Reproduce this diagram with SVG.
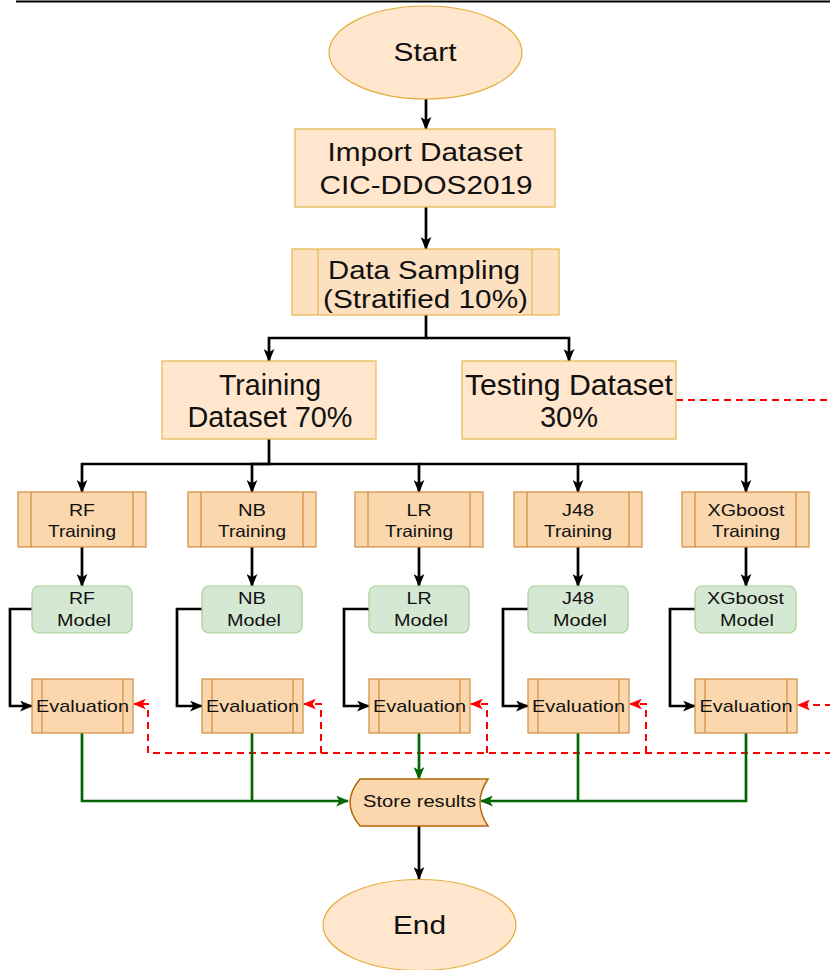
<svg xmlns="http://www.w3.org/2000/svg" width="830" height="970" viewBox="0 0 830 970">
<style>
text{font-family:"Liberation Sans",Arial,sans-serif;fill:#111;text-anchor:middle}
.big{font-size:25px}
.huge{font-size:29px}
.sm{font-size:16.5px}
.ev{font-size:17px}
.term{fill:#ffe6cc;stroke:#e3ac3a;stroke-width:1.2}
.proc{fill:#ffe6cc;stroke:#e6b64a;stroke-width:1.2}
.samp{fill:#fde0c0;stroke:#e6b64a;stroke-width:1.2}
.sub{fill:#fad7ac;stroke:#d08c3c;stroke-width:1.2}
.model{fill:#d5e8d4;stroke:#a6d08f;stroke-width:1.2}
.blk{fill:none;stroke:#000;stroke-width:2.7}
.grn{fill:none;stroke:#006600;stroke-width:2.7}
.red{fill:none;stroke:#ff0000;stroke-width:2;stroke-dasharray:7 5}
</style>
<defs>
<marker id="ab" viewBox="0 0 12 10" refX="11" refY="5" markerWidth="13" markerHeight="11" markerUnits="userSpaceOnUse" orient="auto"><path d="M0,0 L12,5 L0,10 L3,5 z" fill="#000"/></marker>
<marker id="ag" viewBox="0 0 12 10" refX="11" refY="5" markerWidth="13" markerHeight="11" markerUnits="userSpaceOnUse" orient="auto"><path d="M0,0 L12,5 L0,10 L3,5 z" fill="#006600"/></marker>
<marker id="ar" viewBox="0 0 12 10" refX="11" refY="5" markerWidth="13" markerHeight="11" markerUnits="userSpaceOnUse" orient="auto"><path d="M0,0 L12,5 L0,10 L3,5 z" fill="#ff0000"/></marker>
</defs>

<line x1="16" y1="1.5" x2="830" y2="1.5" stroke="#000" stroke-width="2"/>

<g id="connectors">
<path class="blk" d="M426,99 V129" marker-end="url(#ab)"/>
<path class="blk" d="M426,207 V249" marker-end="url(#ab)"/>
<path class="blk" d="M426,315 V338 H269 V361" marker-end="url(#ab)"/>
<path class="blk" d="M426,338 H569 V361" marker-end="url(#ab)"/>
<path class="blk" d="M269,439 V464 H82 V492" marker-end="url(#ab)"/>
<path class="blk" d="M269,464 H252 V492" marker-end="url(#ab)"/>
<path class="blk" d="M269,464 H419 V492" marker-end="url(#ab)"/>
<path class="blk" d="M419,464 H578 V492" marker-end="url(#ab)"/>
<path class="blk" d="M578,464 H746 V492" marker-end="url(#ab)"/>
<path class="blk" d="M82,547 V586" marker-end="url(#ab)"/>
<path class="blk" d="M252,547 V586" marker-end="url(#ab)"/>
<path class="blk" d="M419,547 V586" marker-end="url(#ab)"/>
<path class="blk" d="M578,547 V586" marker-end="url(#ab)"/>
<path class="blk" d="M746,547 V586" marker-end="url(#ab)"/>
<path class="blk" d="M32,609 H10 V706 H32" marker-end="url(#ab)"/>
<path class="blk" d="M202,609 H177 V706 H202" marker-end="url(#ab)"/>
<path class="blk" d="M369,609 H344 V706 H369" marker-end="url(#ab)"/>
<path class="blk" d="M528,609 H503 V706 H528" marker-end="url(#ab)"/>
<path class="blk" d="M695,609 H670 V706 H695" marker-end="url(#ab)"/>
<path class="red" d="M676,400 H832"/>
<path class="red" d="M832,753 H148"/>
<path class="red" d="M148,753 V704 H134" marker-end="url(#ar)"/>
<path class="red" d="M321,753 V704 H304" marker-end="url(#ar)"/>
<path class="red" d="M487,753 V704 H471" marker-end="url(#ar)"/>
<path class="red" d="M646,753 V704 H630" marker-end="url(#ar)"/>
<path class="red" d="M832,705 H798" marker-end="url(#ar)"/>
<path class="grn" d="M82,733 V801 H348" marker-end="url(#ag)"/>
<path class="grn" d="M252,733 V801"/>
<path class="grn" d="M419,733 V779" marker-end="url(#ag)"/>
<path class="grn" d="M746,733 V801 H481" marker-end="url(#ag)"/>
<path class="grn" d="M578,733 V801"/>
<path class="blk" d="M419,826 V879" marker-end="url(#ab)"/>
</g>

<g id="start">
<ellipse class="term" cx="425.5" cy="52.5" rx="96.5" ry="46.5"/>
<text class="big" x="425" y="61" textLength="63" lengthAdjust="spacingAndGlyphs">Start</text>
</g>
<g id="import">
<rect class="proc" x="295" y="129" width="260" height="78"/>
<text class="big" x="425" y="161" textLength="195" lengthAdjust="spacingAndGlyphs">Import Dataset</text>
<text class="big" x="426" y="194" textLength="213" lengthAdjust="spacingAndGlyphs">CIC-DDOS2019</text>
</g>
<g id="sampling">
<rect class="samp" x="292" y="249" width="267" height="66"/>
<line class="samp" x1="318" y1="249" x2="318" y2="315"/>
<line class="samp" x1="532" y1="249" x2="532" y2="315"/>
<text class="big" x="424" y="279" textLength="192" lengthAdjust="spacingAndGlyphs">Data Sampling</text>
<text class="big" x="425.5" y="308" textLength="205" lengthAdjust="spacingAndGlyphs">(Stratified 10%)</text>
</g>
<g id="training-dataset">
<rect class="proc" x="162" y="361" width="214" height="78"/>
<text class="huge" x="270" y="395" textLength="102" lengthAdjust="spacingAndGlyphs">Training</text>
<text class="huge" x="270" y="427" textLength="165" lengthAdjust="spacingAndGlyphs">Dataset 70%</text>
</g>
<g id="testing-dataset">
<rect class="proc" x="462" y="361" width="214" height="78"/>
<text class="huge" x="569" y="395" textLength="208" lengthAdjust="spacingAndGlyphs">Testing Dataset</text>
<text class="huge" x="569" y="427" textLength="58" lengthAdjust="spacingAndGlyphs">30%</text>
</g>

<g id="rf-training">
<rect class="sub" x="18" y="492" width="128" height="55"/>
<line class="sub" x1="31" y1="492" x2="31" y2="547"/><line class="sub" x1="133" y1="492" x2="133" y2="547"/>
<text class="sm" x="82" y="516" textLength="26" lengthAdjust="spacingAndGlyphs">RF</text>
<text class="sm" x="82" y="537" textLength="68" lengthAdjust="spacingAndGlyphs">Training</text>
</g>
<g id="nb-training">
<rect class="sub" x="188" y="492" width="128" height="55"/>
<line class="sub" x1="201" y1="492" x2="201" y2="547"/><line class="sub" x1="303" y1="492" x2="303" y2="547"/>
<text class="sm" x="252" y="516" textLength="28" lengthAdjust="spacingAndGlyphs">NB</text>
<text class="sm" x="252" y="537" textLength="68" lengthAdjust="spacingAndGlyphs">Training</text>
</g>
<g id="lr-training">
<rect class="sub" x="355" y="492" width="128" height="55"/>
<line class="sub" x1="368" y1="492" x2="368" y2="547"/><line class="sub" x1="470" y1="492" x2="470" y2="547"/>
<text class="sm" x="419" y="516" textLength="25" lengthAdjust="spacingAndGlyphs">LR</text>
<text class="sm" x="419" y="537" textLength="68" lengthAdjust="spacingAndGlyphs">Training</text>
</g>
<g id="j48-training">
<rect class="sub" x="514" y="492" width="128" height="55"/>
<line class="sub" x1="527" y1="492" x2="527" y2="547"/><line class="sub" x1="629" y1="492" x2="629" y2="547"/>
<text class="sm" x="578" y="516" textLength="32" lengthAdjust="spacingAndGlyphs">J48</text>
<text class="sm" x="578" y="537" textLength="68" lengthAdjust="spacingAndGlyphs">Training</text>
</g>
<g id="xgboost-training">
<rect class="sub" x="682" y="492" width="127" height="55"/>
<line class="sub" x1="695" y1="492" x2="695" y2="547"/><line class="sub" x1="796" y1="492" x2="796" y2="547"/>
<text class="sm" x="746" y="516" textLength="77" lengthAdjust="spacingAndGlyphs">XGboost</text>
<text class="sm" x="746" y="537" textLength="68" lengthAdjust="spacingAndGlyphs">Training</text>
</g>

<g id="rf-model">
<rect class="model" x="32" y="586" width="100" height="47" rx="7"/>
<text class="sm" x="82" y="604" textLength="26" lengthAdjust="spacingAndGlyphs">RF</text>
<text class="sm" x="84" y="626" textLength="54" lengthAdjust="spacingAndGlyphs">Model</text>
</g>
<g id="nb-model">
<rect class="model" x="202" y="586" width="100" height="47" rx="7"/>
<text class="sm" x="252" y="604" textLength="28" lengthAdjust="spacingAndGlyphs">NB</text>
<text class="sm" x="254" y="626" textLength="54" lengthAdjust="spacingAndGlyphs">Model</text>
</g>
<g id="lr-model">
<rect class="model" x="369" y="586" width="100" height="47" rx="7"/>
<text class="sm" x="419" y="604" textLength="25" lengthAdjust="spacingAndGlyphs">LR</text>
<text class="sm" x="421" y="626" textLength="54" lengthAdjust="spacingAndGlyphs">Model</text>
</g>
<g id="j48-model">
<rect class="model" x="528" y="586" width="100" height="47" rx="7"/>
<text class="sm" x="578" y="604" textLength="32" lengthAdjust="spacingAndGlyphs">J48</text>
<text class="sm" x="580" y="626" textLength="54" lengthAdjust="spacingAndGlyphs">Model</text>
</g>
<g id="xgboost-model">
<rect class="model" x="695" y="586" width="101" height="47" rx="7"/>
<text class="sm" x="745.5" y="604" textLength="77" lengthAdjust="spacingAndGlyphs">XGboost</text>
<text class="sm" x="747" y="626" textLength="54" lengthAdjust="spacingAndGlyphs">Model</text>
</g>

<g id="rf-eval">
<rect class="sub" x="32" y="679" width="101" height="54"/>
<line class="sub" x1="42" y1="679" x2="42" y2="733"/><line class="sub" x1="123" y1="679" x2="123" y2="733"/>
<text class="ev" x="82.5" y="712" textLength="93" lengthAdjust="spacingAndGlyphs">Evaluation</text>
</g>
<g id="nb-eval">
<rect class="sub" x="202" y="679" width="101" height="54"/>
<line class="sub" x1="212" y1="679" x2="212" y2="733"/><line class="sub" x1="293" y1="679" x2="293" y2="733"/>
<text class="ev" x="252.5" y="712" textLength="93" lengthAdjust="spacingAndGlyphs">Evaluation</text>
</g>
<g id="lr-eval">
<rect class="sub" x="369" y="679" width="101" height="54"/>
<line class="sub" x1="379" y1="679" x2="379" y2="733"/><line class="sub" x1="460" y1="679" x2="460" y2="733"/>
<text class="ev" x="419.5" y="712" textLength="93" lengthAdjust="spacingAndGlyphs">Evaluation</text>
</g>
<g id="j48-eval">
<rect class="sub" x="528" y="679" width="101" height="54"/>
<line class="sub" x1="538" y1="679" x2="538" y2="733"/><line class="sub" x1="619" y1="679" x2="619" y2="733"/>
<text class="ev" x="578.5" y="712" textLength="93" lengthAdjust="spacingAndGlyphs">Evaluation</text>
</g>
<g id="xgboost-eval">
<rect class="sub" x="695" y="679" width="102" height="54"/>
<line class="sub" x1="705" y1="679" x2="705" y2="733"/><line class="sub" x1="787" y1="679" x2="787" y2="733"/>
<text class="ev" x="746" y="712" textLength="93" lengthAdjust="spacingAndGlyphs">Evaluation</text>
</g>

<g id="store-results">
<path d="M360,779 L488,779 Q472,802.5 488,826 L360,826 Q340,802.5 360,779 Z" fill="#fad7ac" stroke="#b46504" stroke-width="1.5"/>
<text class="sm" x="419.5" y="807" textLength="113" lengthAdjust="spacingAndGlyphs">Store results</text>
</g>
<g id="end">
<ellipse class="term" cx="419.5" cy="925" rx="96.5" ry="45.5"/>
<text class="big" x="419.5" y="934" textLength="53" lengthAdjust="spacingAndGlyphs">End</text>
</g>
</svg>
